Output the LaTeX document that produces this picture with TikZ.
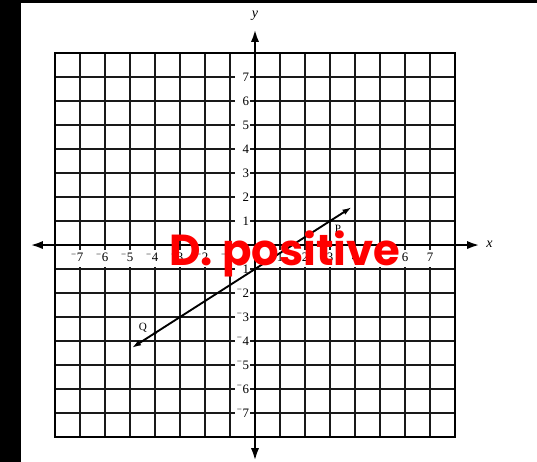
\documentclass[tikz,border=0pt]{standalone}
\usepackage{fontspec}
\setmainfont{Liberation Serif}
\newfontfamily\answerfont{Poppins}
\usetikzlibrary{arrows.meta}

\begin{document}
\begin{tikzpicture}[x=0.75cm, y=0.72cm]
  \tikzset{
    gridline/.style={draw=black!90, line width=1pt},
    gridframe/.style={draw=black, line width=1.9pt},
    axis/.style={draw=black, line width=2.4pt, {Latex[length=11pt,width=7pt]}-{Latex[length=11pt,width=7pt]}},
    pqline/.style={draw=black, line width=1.6pt, {Latex[length=8pt,width=5pt]}-{Latex[length=8pt,width=5pt]}},
    dot/.style={circle, fill=black, inner sep=0pt, minimum size=3pt},
    ticklabel/.style={inner sep=0.6pt, font=\fontsize{11}{12}\selectfont},
    ptlabel/.style={inner sep=0pt, font=\fontsize{9.5}{11}\selectfont},
    axislabel/.style={inner sep=0pt, font=\fontsize{12}{14}\selectfont\itshape},
    answer/.style={anchor=base, inner sep=0pt, text=red, font=\answerfont\bfseries\fontsize{37}{37}\selectfont}
  }

  \useasboundingbox (-10.2,-9.04) rectangle (11.28,10.21);

  % black strips on the left and top edge
  \fill[black] (-10.2,-9.04) rectangle (-9.36,10.21);
  \fill[black] (-10.2,10.08) rectangle (11.28,10.21);

  % the grid
  \draw[gridline, step={(1,1)}] (-8,-8) grid (8,8);
  \draw[gridframe] (-8,-8) rectangle (8,8);

  % white strips behind the numbers
  \fill[white] (-7.5,-0.2) rectangle (7.5,-0.92);
  \fill[white] (-0.8,-7.5) rectangle (-0.22,7.5);

  % numbers on both axes
  \foreach \n in {1,...,7} {
    \node[ticklabel, anchor=east] (ypos\n) at (-0.2,\n) {\n};
    \node[ticklabel, anchor=east] (yneg\n) at (-0.2,-\n) {\textsuperscript{−}\n};
    \node[ticklabel] (xpos\n) at (\n,-0.52) {\n};
    \node[ticklabel] (xneg\n) at (-\n,-0.52) {\llap{\textsuperscript{−}}\n};
  }

  % axes
  \coordinate (xleft) at (-9,0);
  \coordinate (xright) at (9,0);
  \coordinate (ytop) at (0,9);
  \coordinate (ybottom) at (0,-9);
  \draw[axis] (xleft) -- (xright);
  \draw[axis] (ybottom) -- (ytop);
  \node[axislabel] (xlab) at (9.38,0.04) {x};
  \node[axislabel] (ylab) at (0,9.55) {y};

  % the line through Q and P
  \coordinate (qend) at (-4.93,-4.287);
  \coordinate (pend) at (3.87,1.58);
  \draw[pqline] (qend) -- (pend);
  \node[dot] (P) at (3,1) {};
  \node[dot] (Q) at (-4,-3.667) {};
  \node[ptlabel] (plab) at (3.32,0.67) {P};
  \node[ptlabel] (qlab) at (-4.48,-3.46) {Q};

  % answer on top
  \node[answer] (ans) at (1.2,-0.86) {D. positive};
\end{tikzpicture}
\end{document}
